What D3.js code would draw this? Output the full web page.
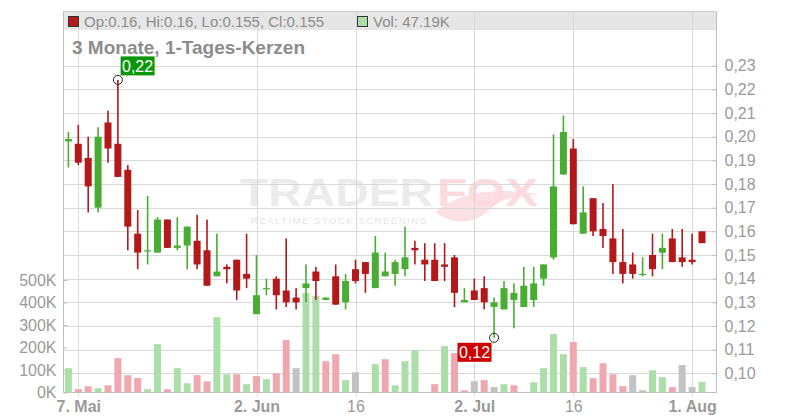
<!DOCTYPE html>
<html><head><meta charset="utf-8">
<script src="https://cdn.jsdelivr.net/npm/d3@7"></script>
<style>html,body{margin:0;padding:0;background:#fff;} svg{display:block;font-family:"Liberation Sans",Arial,sans-serif;}</style>
</head><body><svg id="c" width="800" height="420"></svg>
<script>
// ---------------- data ----------------
const dates = [
 "2025-05-06","2025-05-07","2025-05-08","2025-05-09","2025-05-12","2025-05-13","2025-05-14","2025-05-15","2025-05-16",
 "2025-05-19","2025-05-20","2025-05-21","2025-05-22","2025-05-23","2025-05-26","2025-05-27","2025-05-28","2025-05-29","2025-05-30",
 "2025-06-02","2025-06-03","2025-06-04","2025-06-05","2025-06-06","2025-06-09","2025-06-10","2025-06-11","2025-06-12","2025-06-13",
 "2025-06-16","2025-06-17","2025-06-18","2025-06-19","2025-06-20","2025-06-23","2025-06-24","2025-06-25","2025-06-26","2025-06-27",
 "2025-06-30","2025-07-01","2025-07-02","2025-07-03","2025-07-04","2025-07-07","2025-07-08","2025-07-09","2025-07-10","2025-07-11",
 "2025-07-14","2025-07-15","2025-07-16","2025-07-17","2025-07-18","2025-07-21","2025-07-22","2025-07-23","2025-07-24","2025-07-25",
 "2025-07-28","2025-07-29","2025-07-30","2025-07-31","2025-08-01","2025-08-04"];
const open  = [0.198,0.197,0.191,0.170,0.206,0.197,0.186,0.159,0.152,0.151,0.165,0.153,0.154,0.156,0.152,0.141,0.145,0.148,0.142,
 0.125,0.136,0.140,0.135,0.132,0.136,0.143,0.131,0.141,0.130,0.144,0.147,0.136,0.141,0.142,0.144,0.153,0.148,0.148,0.146,
 0.149,0.130,0.135,0.136,0.128,0.127,0.131,0.128,0.131,0.140,0.149,0.184,0.195,0.159,0.174,0.161,0.157,0.147,0.146,0.142,
 0.150,0.151,0.157,0.149,0.148,0.160];
const high  = [0.202,0.205,0.200,0.204,0.211,0.224,0.188,0.169,0.175,0.166,0.165,0.166,0.162,0.167,0.165,0.159,0.146,0.148,0.159,
 0.150,0.140,0.141,0.157,0.136,0.146,0.145,0.132,0.146,0.142,0.148,0.147,0.158,0.151,0.148,0.162,0.156,0.155,0.155,0.155,
 0.150,0.136,0.140,0.141,0.132,0.139,0.138,0.145,0.145,0.146,0.201,0.209,0.199,0.179,0.174,0.172,0.180,0.161,0.151,0.149,
 0.159,0.159,0.161,0.161,0.159,0.160];
const low   = [0.187,0.188,0.168,0.168,0.189,0.183,0.152,0.144,0.146,0.151,0.153,0.152,0.144,0.144,0.137,0.141,0.138,0.131,0.136,
 0.125,0.133,0.127,0.128,0.127,0.130,0.131,0.131,0.129,0.127,0.138,0.134,0.136,0.141,0.137,0.141,0.146,0.139,0.139,0.139,
 0.128,0.130,0.131,0.127,0.115,0.127,0.119,0.128,0.128,0.137,0.148,0.184,0.163,0.159,0.158,0.153,0.142,0.138,0.140,0.141,
 0.141,0.144,0.147,0.145,0.146,0.155];
const close = [0.199,0.189,0.179,0.200,0.195,0.183,0.162,0.151,0.152,0.165,0.153,0.154,0.162,0.146,0.137,0.143,0.144,0.135,0.140,
 0.133,0.136,0.133,0.130,0.130,0.138,0.139,0.132,0.129,0.139,0.139,0.142,0.151,0.143,0.147,0.149,0.152,0.146,0.139,0.145,
 0.134,0.131,0.131,0.130,0.130,0.136,0.134,0.137,0.138,0.146,0.179,0.202,0.163,0.168,0.160,0.158,0.147,0.142,0.142,0.142,
 0.144,0.153,0.147,0.147,0.147,0.155];
const volume = [108000,15000,28000,19000,32000,153000,77000,64000,15000,215000,15000,108000,41000,77000,50000,335000,81000,81000,37000,
 73000,59000,86000,233000,108000,442000,429000,139000,170000,55000,90000,0,126000,148000,32000,139000,188000,0,37000,206000,
 175000,10000,50000,55000,24000,37000,32000,0,46000,108000,260000,170000,224000,113000,64000,130000,81000,28000,77000,10000,
 99000,68000,24000,122000,24000,47190];
const prevClose = 0.195;
const priceTicks = [0.10,0.11,0.12,0.13,0.14,0.15,0.16,0.17,0.18,0.19,0.20,0.21,0.22,0.23];
const volumeTicks = [0,100000,200000,300000,400000,500000];
const xTickDates  = ["2025-05-07","2025-06-02","2025-06-16","2025-07-02","2025-07-16","2025-08-01"];
const xTickLabels = ["7. Mai","2. Jun","16","2. Jul","16","1. Aug"];
const xTickBold   = [true,true,false,true,false,true];
const title = "3 Monate, 1-Tages-Kerzen";
const legendText = "Op:0.16, Hi:0.16, Lo:0.155, Cl:0.155";
const volText = "Vol: 47.19K";
const highMark = {date:"2025-05-13", value:0.224, label:"0,22"};
const lowMark  = {date:"2025-07-04", value:0.115, label:"0,12"};

// ---------------- layout ----------------
const L = 63.5, R = 716.5, TOP = 11.5, BOT = 392.5;
const C = {up:"#49ad33", down:"#b3181b", vUp:"#acdea9", vDown:"#f0a8b0", vFlat:"#c2c2c2",
           grid:"#d9d9d9", axis:"#bdbdbd", text:"#9a9a9a"};
const svg = d3.select("#c");
const x = d3.scalePoint().domain(dates).range([68.4, 702]);
const y = d3.scaleLinear().domain([0.10, 0.23]).range([373.3, 65.7]);
const yv = d3.scaleLinear().domain([0, 500000]).range([BOT, 280]);
const fmt = d => d3.format(".2f")(d).replace(".", ",");

// watermark
const wm = svg.append("g");
wm.append("text").attr("x",240).attr("y",206).attr("textLength",193).attr("lengthAdjust","spacingAndGlyphs")
  .style("font-family","'Liberation Sans',Arial,sans-serif").style("font-weight","bold").style("font-size","38px")
  .attr("fill","#ebebeb").text("TRADER");
wm.append("path").attr("d","M436,212 C455,195 490,185 540,195 C515,195 500,199 488,211 C472,226 448,224 436,212 Z")
  .attr("fill","#fde0e3");
wm.append("text").attr("x",437).attr("y",206).attr("textLength",101).attr("lengthAdjust","spacingAndGlyphs")
  .style("font-family","'Liberation Sans',Arial,sans-serif").style("font-weight","bold").style("font-size","38px")
  .attr("fill","#fcdadd").text("FOX");
wm.append("text").attr("x",251).attr("y",224).attr("textLength",176).attr("lengthAdjust","spacing")
  .style("font-size","9.5px").attr("fill","#e4e4e4").text("REALTIME STOCK SCREENING");

// legend band
svg.append("rect").attr("x",L).attr("y",TOP).attr("width",R-L).attr("height",18.5).attr("fill","#e6e6e6");
svg.append("line").attr("x1",L).attr("x2",R).attr("y1",TOP).attr("y2",TOP).attr("stroke","#cfcfcf");

// grid
svg.append("g").selectAll("line").data(priceTicks).join("line")
  .attr("x1",L).attr("x2",R).attr("y1",d=>Math.round(y(d))+0.5).attr("y2",d=>Math.round(y(d))+0.5)
  .attr("stroke",C.grid);
svg.append("g").selectAll("line").data(xTickDates).join("line")
  .attr("x1",d=>Math.round(x(d))+0.5).attr("x2",d=>Math.round(x(d))+0.5).attr("y1",TOP).attr("y2",BOT+4)
  .attr("stroke",C.grid);

// axes lines
svg.append("line").attr("x1",L).attr("x2",L).attr("y1",TOP).attr("y2",BOT).attr("stroke",C.axis);
svg.append("line").attr("x1",R).attr("x2",R).attr("y1",TOP).attr("y2",BOT).attr("stroke",C.axis);
svg.append("line").attr("x1",L).attr("x2",R).attr("y1",BOT).attr("y2",BOT).attr("stroke",C.axis);

// right price axis
const ra = svg.append("g").attr("transform",`translate(${R},0)`)
  .call(d3.axisRight(y).tickValues(priceTicks).tickFormat(fmt).tickSizeInner(-4).tickSizeOuter(0).tickPadding(8));
ra.select(".domain").remove();
ra.selectAll(".tick line").attr("stroke",C.axis);
ra.selectAll("text").attr("fill",C.text).style("font-size","16px").style("font-family","'Liberation Sans',Arial,sans-serif");

// left volume axis
const la = svg.append("g").attr("transform",`translate(${L},0)`)
  .call(d3.axisLeft(yv).tickValues(volumeTicks).tickFormat(d=>(d/1000)+"K").tickSizeInner(-4).tickSizeOuter(0).tickPadding(7));
la.select(".domain").remove();
la.selectAll(".tick line").attr("stroke",C.axis);
la.selectAll("text").attr("fill",C.text).style("font-size","16px").style("font-family","'Liberation Sans',Arial,sans-serif");

// bottom date axis
const xa = svg.append("g").attr("transform",`translate(0,${BOT})`)
  .call(d3.axisBottom(x).tickValues(xTickDates).tickFormat((d,i)=>xTickLabels[i]).tickSize(0).tickPadding(8));
xa.select(".domain").remove();
xa.selectAll("text").attr("fill",C.text).style("font-size","16px")
  .style("font-family","'Liberation Sans',Arial,sans-serif")
  .style("font-weight",(d,i)=>xTickBold[i]?"bold":"normal");

// volume bars
const data = dates.map((d,i)=>({d, o:open[i], h:high[i], l:low[i], c:close[i], v:volume[i],
  pc: i? close[i-1] : prevClose}));
svg.append("g").selectAll("rect").data(data.filter(e=>e.v>0)).join("rect")
  .attr("x",e=>x(e.d)-3.5).attr("width",7)
  .attr("y",e=>yv(e.v)).attr("height",e=>BOT-yv(e.v))
  .attr("fill",e=> e.c>e.pc ? C.vUp : e.c<e.pc ? C.vDown : C.vFlat);

// candles
const cg = svg.append("g");
cg.selectAll("rect.w").data(data).join("rect").attr("class","w")
  .attr("x",e=>x(e.d)-0.8).attr("width",1.6)
  .attr("y",e=>y(e.h)).attr("height",e=>Math.max(1,y(e.l)-y(e.h)))
  .attr("fill",e=>e.c>=e.o?C.up:C.down);
cg.selectAll("rect.b").data(data).join("rect").attr("class","b")
  .attr("x",e=>x(e.d)-3.5).attr("width",7)
  .attr("y",e=>y(Math.max(e.o,e.c))).attr("height",e=>Math.max(1.2,Math.abs(y(e.o)-y(e.c))))
  .attr("fill",e=>e.c>=e.o?C.up:C.down);

// hi / lo markers
function marker(m, fill, dx, dy, anchorRight, below){
  const cx = x(m.date), cy = y(m.value);
  svg.append("circle").attr("cx",cx).attr("cy",cy).attr("r",4.5).attr("fill","none").attr("stroke","#222").attr("stroke-width",1);
  const w = 34, h = 19;
  const bx = anchorRight ? cx + dx - w : cx + dx;
  const by = below ? cy + dy : cy + dy - h;
  svg.append("rect").attr("x",bx).attr("y",by).attr("width",w).attr("height",h).attr("fill",fill);
  svg.append("text").attr("x",bx+w/2).attr("y",by+15.5).attr("text-anchor","middle")
    .attr("fill","#fff").style("font-size","16px").text(m.label);
}
marker(highMark, "#0a960a", 2.7, -4.5, false, false);
marker(lowMark, "#cc0000", -2.6, 5, true, true);

// title and legend
svg.append("text").attr("x",72).attr("y",54).attr("fill","#8c8c8c").style("font-size","19px").style("font-weight","bold").text(title);
svg.append("rect").attr("x",68.5).attr("y",16.5).attr("width",10).attr("height",10).attr("fill",C.down).attr("stroke","#333");
svg.append("text").attr("x",84).attr("y",26.5).attr("fill","#8c8c8c").style("font-size","15px").text(legendText);
svg.append("rect").attr("x",357.5).attr("y",16.5).attr("width",10).attr("height",10).attr("fill",C.vUp).attr("stroke","#333");
svg.append("text").attr("x",373).attr("y",26.5).attr("fill","#8c8c8c").style("font-size","15px").text(volText);
</script></body></html>
